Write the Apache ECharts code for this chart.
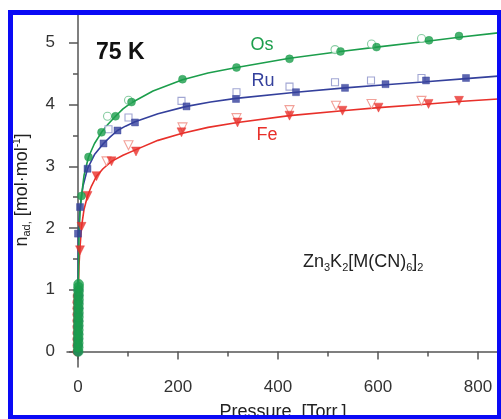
<!DOCTYPE html>
<html>
<head>
<meta charset="utf-8">
<script src="https://cdn.jsdelivr.net/npm/echarts@6/dist/echarts.min.js"></script>
<style>html,body{margin:0;padding:0;background:#fff}#c{width:501px;height:419px}</style>
</head>
<body>
<div id="c"></div>
<script>
// ---- data (Pressure [Torr], n_ad [mol/mol]) ----
const xMajorTicks = [0, 200, 400, 600, 800];
const xMinorTicks = [100, 300, 500, 700];
const yMajorTicks = [0, 1, 2, 3, 4, 5];
const yMinorTicks = [0.5, 1.5, 2.5, 3.5, 4.5];

const osAds = [[7,2.52],[21,3.15],[47,3.55],[75,3.81],[107,4.04],[209,4.41],[317,4.60],[423,4.74],[525,4.86],[597,4.93],[702,5.04],[762,5.11]];
const osDes = [[59,3.81],[101,4.07],[514,4.89],[587,4.98],[687,5.07]];
const osLow = [[0.3,0.0],[0.4,0.07],[0.5,0.14],[0.5,0.21],[0.6,0.28],[0.6,0.35],[0.7,0.42],[0.7,0.49],[0.8,0.56],[0.8,0.63],[0.9,0.70],[0.9,0.77],[1.0,0.84],[1.0,0.91],[1.1,0.98],[1.1,1.04],[1.2,1.09]];
const osFit = [[0,0],[0.6,1.1],[2,1.85],[4,2.25],[7,2.52],[12,2.85],[21,3.15],[33,3.37],[47,3.55],[60,3.68],[75,3.81],[90,3.93],[107,4.03],[150,4.22],[209,4.40],[260,4.51],[317,4.60],[423,4.75],[525,4.86],[597,4.93],[702,5.03],[762,5.09],[840,5.16]];

const ruAds = [[0,1.91],[4,2.34],[19,2.96],[51,3.37],[79,3.58],[114,3.71],[217,3.97],[316,4.09],[436,4.20],[534,4.27],[615,4.33],[696,4.39],[776,4.43]];
const ruDes = [[61,3.60],[101,3.79],[207,4.06],[317,4.20],[423,4.29],[514,4.36],[586,4.39],[687,4.43]];
const ruLow = [[0.0,0.0],[0.1,0.1],[0.2,0.2],[0.3,0.3],[0.4,0.4],[0.5,0.5],[0.6,0.6],[0.7,0.7],[0.8,0.8],[0.9,0.9],[1.0,1.0]];
const ruFit = [[0,0],[0.3,1.2],[0.8,1.91],[4,2.34],[10,2.68],[19,2.96],[33,3.19],[51,3.37],[65,3.48],[79,3.58],[95,3.65],[114,3.72],[160,3.85],[217,3.97],[265,4.04],[316,4.10],[436,4.20],[534,4.27],[615,4.32],[696,4.37],[776,4.42],[840,4.46]];

const feAds = [[4,1.64],[7,2.02],[19,2.52],[37,2.84],[67,3.08],[116,3.24],[207,3.55],[319,3.71],[423,3.82],[529,3.90],[601,3.95],[701,4.01],[762,4.06]];
const feDes = [[57,3.08],[101,3.34],[209,3.63],[317,3.78],[423,3.91],[516,3.98],[587,4.01],[687,4.06]];
const feLow = [[-1.5,0.0],[-1.5,0.1],[-1.5,0.2],[-1.5,0.3],[-1.5,0.4],[-1.5,0.5],[-1.5,0.6],[-1.5,0.7],[-1.5,0.8],[-1.0,0.9]];
const feFit = [[0,0],[0.5,0.9],[2,1.4],[4,1.68],[7,2.02],[12,2.3],[19,2.52],[27,2.68],[37,2.84],[50,2.96],[67,3.08],[90,3.18],[116,3.27],[160,3.42],[207,3.53],[260,3.63],[319,3.71],[423,3.82],[529,3.90],[601,3.95],[701,4.01],[762,4.05],[840,4.09]];

const GREEN = '#1c9e4c', GREEN_L = '#6cc18c';
const BLUE = '#34409c', BLUE_L = '#8a90c8';
const RED = '#e8302a', RED_L = '#ef8a80';
const FONT = 'Liberation Sans, Arial, sans-serif';

function fit(data, color, z) {
  return {type:'line', data, smooth:false, showSymbol:false, symbol:'none',
    lineStyle:{color, width:1.6, join:'round'}, z, silent:true};
}
function pts(data, color, symbol, size, open, z, rotate) {
  return {type:'scatter', data, symbol, symbolSize:size, symbolRotate:rotate||0, z,
    itemStyle: open ? {color:'#fff', borderColor:color, borderWidth:1.1} : {color, borderColor:color, borderWidth:0.5}};
}

const chart = echarts.init(document.getElementById('c'), null, {renderer:'canvas'});
const axisLineStyle = {color:'#555', width:1.5};
chart.setOption({
  animation:false,
  grid:{left:67, top:15, right:3, bottom:52},
  xAxis:[
    {type:'value', min:-22, max:840, position:'bottom',
      axisLine:{show:true, lineStyle:axisLineStyle},
      axisTick:{show:true, customValues:xMajorTicks, length:8, lineStyle:axisLineStyle},
      axisLabel:{customValues:xMajorTicks, fontSize:17, color:'#333', margin:12, fontFamily:FONT},
      splitLine:{show:false}},
    {type:'value', min:-22, max:840, position:'bottom',
      axisLine:{show:false},
      axisTick:{show:true, customValues:xMinorTicks, length:5, lineStyle:axisLineStyle},
      axisLabel:{show:false}, splitLine:{show:false}}
  ],
  yAxis:[
    {type:'value', min:-0.25, max:5.45, position:'left',
      axisLine:{show:true, lineStyle:axisLineStyle},
      axisTick:{show:true, customValues:yMajorTicks, length:9, lineStyle:axisLineStyle},
      axisLabel:{customValues:yMajorTicks, fontSize:17, color:'#333', margin:12, fontFamily:FONT},
      splitLine:{show:false}},
    {type:'value', min:-0.25, max:5.45, position:'left',
      axisLine:{show:false},
      axisTick:{show:true, customValues:yMinorTicks, length:5, lineStyle:axisLineStyle},
      axisLabel:{show:false}, splitLine:{show:false}}
  ],
  series:[
    pts(feLow, RED, 'circle', 9, false, 2),
    pts(ruLow, BLUE, 'circle', 9, false, 2),
    fit(feFit, RED, 3),
    fit(ruFit, BLUE, 3),
    fit(osFit, GREEN, 3),
    pts(feDes, RED_L, 'triangle', 9, true, 4, 180),
    pts(ruDes, BLUE_L, 'rect', 7, true, 4),
    pts(osDes, GREEN_L, 'circle', 8, true, 4),
    pts(feAds, RED, 'triangle', 9, false, 5, 180),
    pts(ruAds, BLUE, 'rect', 7, false, 5),
    pts(osAds, GREEN, 'circle', 8, false, 5),
    pts(osLow, GREEN, 'circle', 10, false, 6)
  ],
  graphic:[
    {type:'text', left:96, top:41, z:20, style:{text:'75 K', font:'bold 23px '+FONT, fill:'#111'}},
    {type:'text', x:262, y:45, z:20, style:{text:'Os', font:'18px '+FONT, fill:GREEN, align:'center', verticalAlign:'middle'}},
    {type:'text', x:263, y:81, z:20, style:{text:'Ru', font:'18px '+FONT, fill:BLUE, align:'center', verticalAlign:'middle'}},
    {type:'text', x:267, y:135, z:20, style:{text:'Fe', font:'18px '+FONT, fill:RED, align:'center', verticalAlign:'middle'}},
    {type:'text', x:303, y:262, z:20, style:{
      text:'Zn{s|3}K{s|2}[M(CN){s|6}]{s|2}', font:'18px '+FONT, fill:'#222', verticalAlign:'middle',
      rich:{s:{fontSize:11, fontFamily:FONT, fill:'#222', padding:[12,0,0,0]}}}},
    {type:'text', x:22, y:190, rotation:Math.PI/2, z:20, style:{
      text:'n{s|ad}{s|,} [mol·mol{p|-1}]', font:'18px '+FONT, fill:'#222', align:'center', verticalAlign:'middle',
      rich:{s:{fontSize:11, fontFamily:FONT, fill:'#222', padding:[10,0,0,0]}, p:{fontSize:10, fontFamily:FONT, fill:'#222', padding:[0,0,10,0]}}}},
    {type:'text', x:283, y:412, z:20, style:{text:'Pressure, [Torr.]', font:'18px '+FONT, fill:'#222', align:'center', verticalAlign:'middle'}},
    {type:'rect', z:30, shape:{x:8, y:10, width:493, height:5}, style:{fill:'#0a0af5'}},
    {type:'rect', z:30, shape:{x:8, y:10, width:5, height:409}, style:{fill:'#0a0af5'}},
    {type:'rect', z:30, shape:{x:8, y:415, width:493, height:4}, style:{fill:'#0a0af5'}},
    {type:'rect', z:30, shape:{x:497, y:10, width:4, height:409}, style:{fill:'#0a0af5'}}
  ]
});
</script>
</body>
</html>
